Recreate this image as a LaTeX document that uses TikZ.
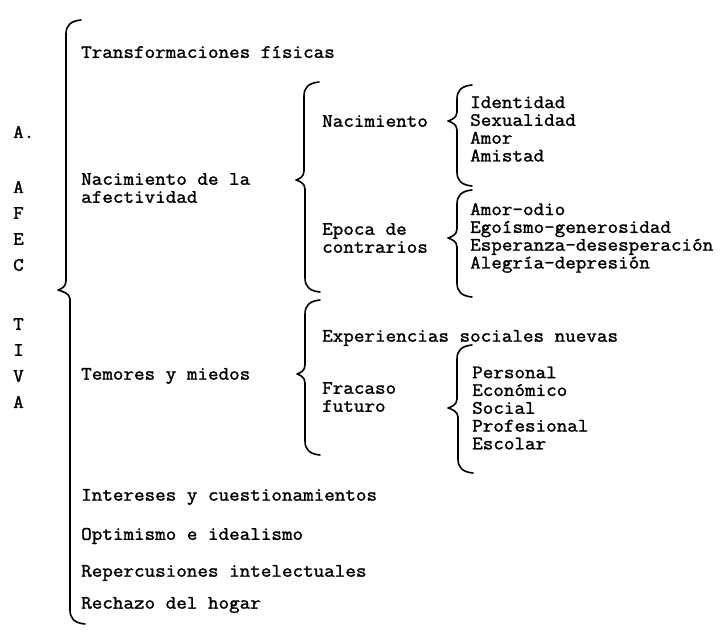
\documentclass[tikz,border=0pt]{standalone}
\usepackage{fontspec}
\newfontfamily\tw[FakeBold=1.5,FakeStretch=1.08]{lmmono12-regular.otf}
\tikzset{
  txt/.style={anchor=west, inner sep=0pt, align=left, font=\tw\fontsize{19}{18}\selectfont},
  lst/.style={txt, font=\tw\fontsize{19}{17.8}\selectfont},
  brace/.style={line width=1.6pt, line cap=round, line join=round}
}
% #1 x of upper line, #2 x of lower line, #3 top y, #4 tip y, #5 bottom y, #6 tip x
\newcommand\curlybr[6]{%
  \draw[brace] (#1+15,#3) .. controls (#1+4,#3+1) and (#1,#3+6) .. (#1,#3+14)
    -- (#1,#4-9) .. controls (#1,#4-3) and (#6+3,#4-1) .. (#6,#4)
    .. controls (#6+3,#4+1) and (#2,#4+3) .. (#2,#4+9)
    -- (#2,#5-14) .. controls (#2,#5-6) and (#2+4,#5-1) .. (#2+15,#5);}
\begin{document}
\begin{tikzpicture}[x=1pt,y=-1pt]
\useasboundingbox (0,0) rectangle (721,633);
% left vertical title
\node[txt] (la) at (13,132) {A.};
\node[txt] (l1) at (13,187) {A};
\node[txt] (l2) at (13,213) {F};
\node[txt] (l3) at (13,239) {E};
\node[txt] (l4) at (13,265) {C};
\node[txt] (l5) at (13,324) {T};
\node[txt] (l6) at (13,350) {I};
\node[txt] (l7) at (13,376) {V};
\node[txt] (l8) at (13,402) {A};
% main brace
\curlybr{66}{70}{20}{290}{624}{58}
% first level
\node[txt] (tf) at (81,52) {Transformaciones físicas};
\node[txt] (na) at (81,188) {Nacimiento de la\\afectividad};
\node[txt] (tm) at (81,376) {Temores y miedos};
\node[txt] (ic) at (81,497) {Intereses y cuestionamientos};
\node[txt] (oi) at (81,536) {Optimismo e idealismo};
\node[txt] (ri) at (81,573) {Repercusiones intelectuales};
\node[txt] (rh) at (81,605) {Rechazo del hogar};
% second level braces
\curlybr{304}{305}{82}{180}{292}{296}
\curlybr{305}{305}{300}{374}{455}{297}
\node[txt] (nc) at (322,121) {Nacimiento};
\node[txt] (ep) at (322,238) {Epoca de\\contrarios};
\node[txt] (ex) at (322,338) {Experiencias sociales nuevas};
\node[txt] (fr) at (322,397) {Fracaso\\futuro};
% third level braces
\curlybr{457}{457}{85}{121}{186}{448}
\curlybr{457}{457}{190}{238}{297}{448}
\curlybr{457}{458}{345}{408}{473}{448}
\node[lst] (l-nac) at (470,129) {Identidad\\Sexualidad\\Amor\\Amistad};
\node[lst] (l-epo) at (470,238) {Amor-odio\\Egoísmo-generosidad\\Esperanza-desesperación\\Alegría-depresión};
\node[lst] (l-fra) at (472,408) {Personal\\Económico\\Social\\Profesional\\Escolar};
\end{tikzpicture}
\end{document}
